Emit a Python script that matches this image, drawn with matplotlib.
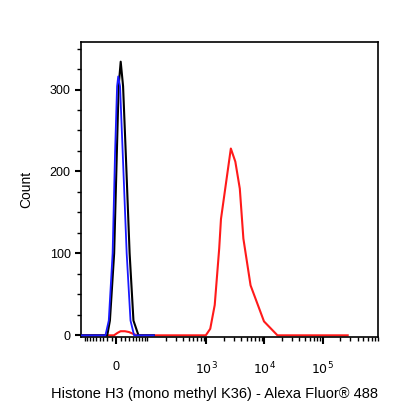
import matplotlib
matplotlib.use("Agg")
import matplotlib.pyplot as plt
import numpy as np

plt.rcParams["font.family"] = ["Liberation Sans", "DejaVu Sans"]

# Data (fluorescence intensity, counts)
black_x = [-120, -20.6, -14.3, -4.6, 1.4, 5.5, 10.2, 15.7, 22.1, 31.7, 42, 57, 120]
black_y = [0, 0, 18, 100, 222, 304, 334, 304, 222, 100, 18, 0, 0]
blue_x = [-120, -25, -17, -8.1, -2.6, 2.0, 4.6, 8.7, 14.9, 24.3, 34, 43.8, 120]
blue_y = [0, 0, 18, 100, 222, 304, 316, 304, 222, 100, 18, 0, 0]
red_x = [-120, -5, 3, 10, 20, 30, 40, 52, 986, 1175, 1403, 1675, 1797, 2655,
         3170, 3785, 4360, 5790, 9850, 16760, 270000]
red_y = [0, 0, 3, 5, 5, 4, 2, 0, 0, 8, 37, 106, 142, 228,
         212, 179, 118, 61, 17, 0, 0]

W = 57.0
def fwd(x):
    # biexponential-like display transform
    return np.arcsinh(np.asarray(x, float) / W) / np.log(10)

fig = plt.figure(figsize=(4.16, 4.16), dpi=100)
ax = fig.add_axes([0.195, 0.19, 0.714, 0.709])

ax.plot(fwd(red_x), red_y, color="#ff1a1a", lw=1.5, zorder=2)
ax.plot(fwd(black_x), black_y, color="black", lw=1.5, zorder=3)
ax.plot(fwd(blue_x), blue_y, color="#1a1aff", lw=1.3, zorder=4)

ax.set_xlim(fwd(-107), fwd(265000))
ax.set_ylim(-2, 358)

ax.set_xticks(fwd([0, 1e3, 1e4, 1e5]))
ax.set_xticklabels(["0", r"$10^3$", r"$10^4$", r"$10^5$"], fontsize=9)
minors = [v * s for v in range(10, 100, 10) for s in (1, -1)]
minors += [v * d for d in (100, 1000, 10000, 100000) for v in range(2, 10)]
ax.set_xticks(fwd(minors), minor=True)
ax.set_yticks([0, 100, 200, 300])
ax.set_yticks(np.arange(0, 358, 25), minor=True)
ax.tick_params(axis="y", labelsize=9, length=4, width=1.5)
ax.tick_params(axis="x", length=5, width=1.5, pad=12)
ax.tick_params(which="minor", length=3, width=1)
for s in ax.spines.values():
    s.set_linewidth(1.2)

ax.set_ylabel("Count", fontsize=10, labelpad=12)
ax.set_xlabel("Histone H3 (mono methyl K36) - Alexa Fluor\u00ae 488", fontsize=10.5, labelpad=6)
ax.xaxis.set_label_coords(0.45, -0.17)

fig.savefig("out.png", dpi=100)
